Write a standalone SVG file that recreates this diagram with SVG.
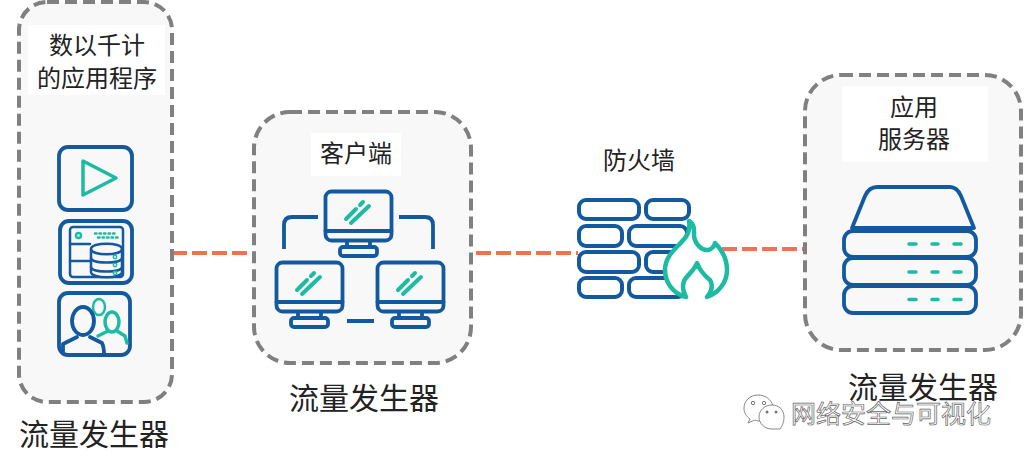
<svg xmlns="http://www.w3.org/2000/svg" width="1024" height="459" viewBox="0 0 1024 459">
<style>
text{font-family:"Noto Sans CJK SC","Noto Sans",sans-serif;fill:#222;text-anchor:middle}
.panel{fill:#f8f8f8;stroke:#808080;stroke-width:4;stroke-dasharray:12 6}
.label{fill:#fff;stroke:none}
.t{font-size:24px}
.big{font-size:30px}
.b,.g{fill:none;stroke-linecap:round;stroke-linejoin:round}
.b{stroke:#13599f;stroke-width:3.800}
.g{stroke:#1dbba4;stroke-width:3.500}
.thin{stroke-width:2.500}
.brick{fill:#fff;stroke:#13599f;stroke-width:4}
.link{stroke:#f2714f;stroke-width:4;stroke-dasharray:15 5;fill:none}
.wm{font-size:25px;fill:#fff;stroke:#666;stroke-width:.7;text-anchor:start}
</style>
<defs>
<g id="monitor">
<rect class="b" x="1.500" y="1.500" width="66" height="49" rx="6"/>
<path class="b" d="M1.500 41H67.500M23 51V57M46 51V57"/>
<rect class="b" x="16" y="57" width="37" height="9" rx="3"/>
<path class="g" style="stroke-width:4" d="M22 29L32 19M36 15L39 12M27 33L45 16"/>
</g>
<g id="dashes"><path class="g" d="M909 0H916M932 0H938M954 0H961"/></g>
</defs>

<g id="connectors">
<path class="link" d="M172 253H248"/>
<path class="link" d="M476 253H578"/>
<path class="link" d="M722 249H803"/>
</g>

<g id="apps">
<rect class="panel" x="19" y="2" width="153" height="400" rx="28"/>
<rect class="label" x="28" y="25" width="137" height="70"/>
<text class="t" x="97" y="54">数以千计</text>
<text class="t" x="97" y="87">的应用程序</text>
<rect class="b" x="59" y="147" width="73" height="63" rx="9"/>
<path class="g" d="M83 161L116 178L83 195Z"/>
<rect class="b" x="60" y="221" width="72" height="62" rx="9"/>
<rect class="b thin" x="70" y="227" width="53" height="50" rx="3"/>
<path class="b thin" d="M70 244H90M70 261H90"/>
<circle class="g thin" cx="78.500" cy="235.500" r="2.500"/>
<path class="g thin" stroke-dasharray="1.500 3" d="M95 233.500H116M98 237.500H118"/>
<path class="b thin" style="fill:#f8f8f8" d="M91 249C91 242 122 242 122 249V272C122 279 91 279 91 272Z"/>
<path class="b thin" d="M91 249C91 256 122 256 122 249M91 258C91 264 122 264 122 258M91 267C91 273 122 273 122 267"/>
<circle class="g" style="stroke-width:1.500" cx="115" cy="257" r="1.700"/>
<circle class="g" style="stroke-width:1.500" cx="115" cy="265" r="1.700"/>
<circle class="g" style="stroke-width:1.500" cx="115" cy="273" r="1.700"/>
<rect class="b" x="59" y="293" width="71" height="62" rx="9"/>
<ellipse class="g thin" cx="99" cy="307" rx="6" ry="8"/>
<ellipse class="g" cx="112" cy="322" rx="7" ry="10"/>
<path class="g" d="M98 336L108 331M117 331L125 336L127 343"/>
<ellipse class="b" cx="83" cy="321" rx="11" ry="14"/>
<path class="b" d="M63 352V344L77 337M90 337L102 343Q104 347 104 354"/>
</g>

<g id="client">
<rect class="panel" x="254" y="112" width="217" height="251" rx="36"/>
<rect class="label" x="311" y="133" width="90" height="43"/>
<text class="t" x="356" y="162">客户端</text>
<use href="#monitor" x="324" y="190"/>
<use href="#monitor" x="275" y="261"/>
<use href="#monitor" x="376" y="261"/>
<path class="b" style="stroke-linecap:butt" d="M318 217H292Q284 217 284 225V249M399 217H425Q433 217 433 225V249M347 321H374"/>
<text class="big" x="364" y="409">流量发生器</text>
</g>

<g id="firewall">
<text class="t" x="639" y="169">防火墙</text>
<rect class="brick" x="579" y="200" width="60" height="19" rx="7"/>
<rect class="brick" x="646" y="200" width="43" height="19" rx="7"/>
<rect class="brick" x="579" y="226" width="43" height="20" rx="7"/>
<rect class="brick" x="629" y="226" width="58" height="20" rx="7"/>
<rect class="brick" x="579" y="252" width="60" height="20" rx="7"/>
<rect class="brick" x="646" y="252" width="40" height="20" rx="7"/>
<rect class="brick" x="579" y="278" width="43" height="19" rx="7"/>
<rect class="brick" x="629" y="278" width="56" height="19" rx="7"/>
<!-- flame: white body first, then the open outline on top -->
<path fill="#fff" d="M689 221C695 224 694 231 694 236C695 244 702 251 708 250C712 249 714 247 715 243C722 250 727 260 727 270C727 283 718 293 707 297H686C673 294 665 282 665 270C665 255 678 247 685 238C689 233 690 227 689 221Z"/>
<path class="g" style="stroke-width:4.500" d="M686 297C673 294 665 282 665 270C665 255 678 247 685 238C689 233 690 227 689 221C695 224 694 231 694 236C695 244 702 251 708 250C712 249 714 247 715 243C722 250 727 260 727 270C727 283 718 293 707 297C712 291 713 285 710 280C705 276 700 271 697 263C694 271 687 275 684 281C682 287 683 292 686 297Z"/>
</g>

<g id="server">
<rect class="panel" x="805" y="75" width="216" height="275" rx="36"/>
<rect class="label" x="842" y="86" width="146" height="76"/>
<text class="t" x="914" y="116">应用</text>
<text class="t" x="914" y="148">服务器</text>
<path class="b" d="M852 228L865 196Q869 187 877 187H950Q957 187 961 196L974 228Z"/>
<rect class="b" x="844" y="231" width="132" height="26" rx="9"/>
<rect class="b" x="844" y="258" width="132" height="27" rx="9"/>
<rect class="b" x="844" y="286" width="132" height="27" rx="9"/>
<use href="#dashes" y="244"/>
<use href="#dashes" y="272"/>
<use href="#dashes" y="299.500"/>
<text class="big" x="923" y="398">流量发生器</text>
</g>

<text class="big" x="94" y="445">流量发生器</text>

<g id="watermark">
<path d="M758 395C750 395 744 401 744 408C744 413 746 416 750 419L748 423L755 420C757 421 759 421 761 421L773 406C771 399 765 395 758 395Z" fill="#fff" stroke="#888"/>
<circle cx="753" cy="403" r="1.700" fill="none" stroke="#777"/>
<circle cx="764" cy="403" r="1.700" fill="none" stroke="#777"/>
<path d="M772 405C765 405 759 410 759 417C759 424 765 429 772 429L780 429L781 428C781 427 784 424 784 417C784 410 779 405 772 405Z" fill="#fff" stroke="#888"/>
<circle cx="767" cy="412" r="1.500" fill="#777"/>
<circle cx="776" cy="412" r="1.500" fill="#777"/>
<text class="wm" x="791" y="423">网络安全与可视化</text>
</g>
</svg>
